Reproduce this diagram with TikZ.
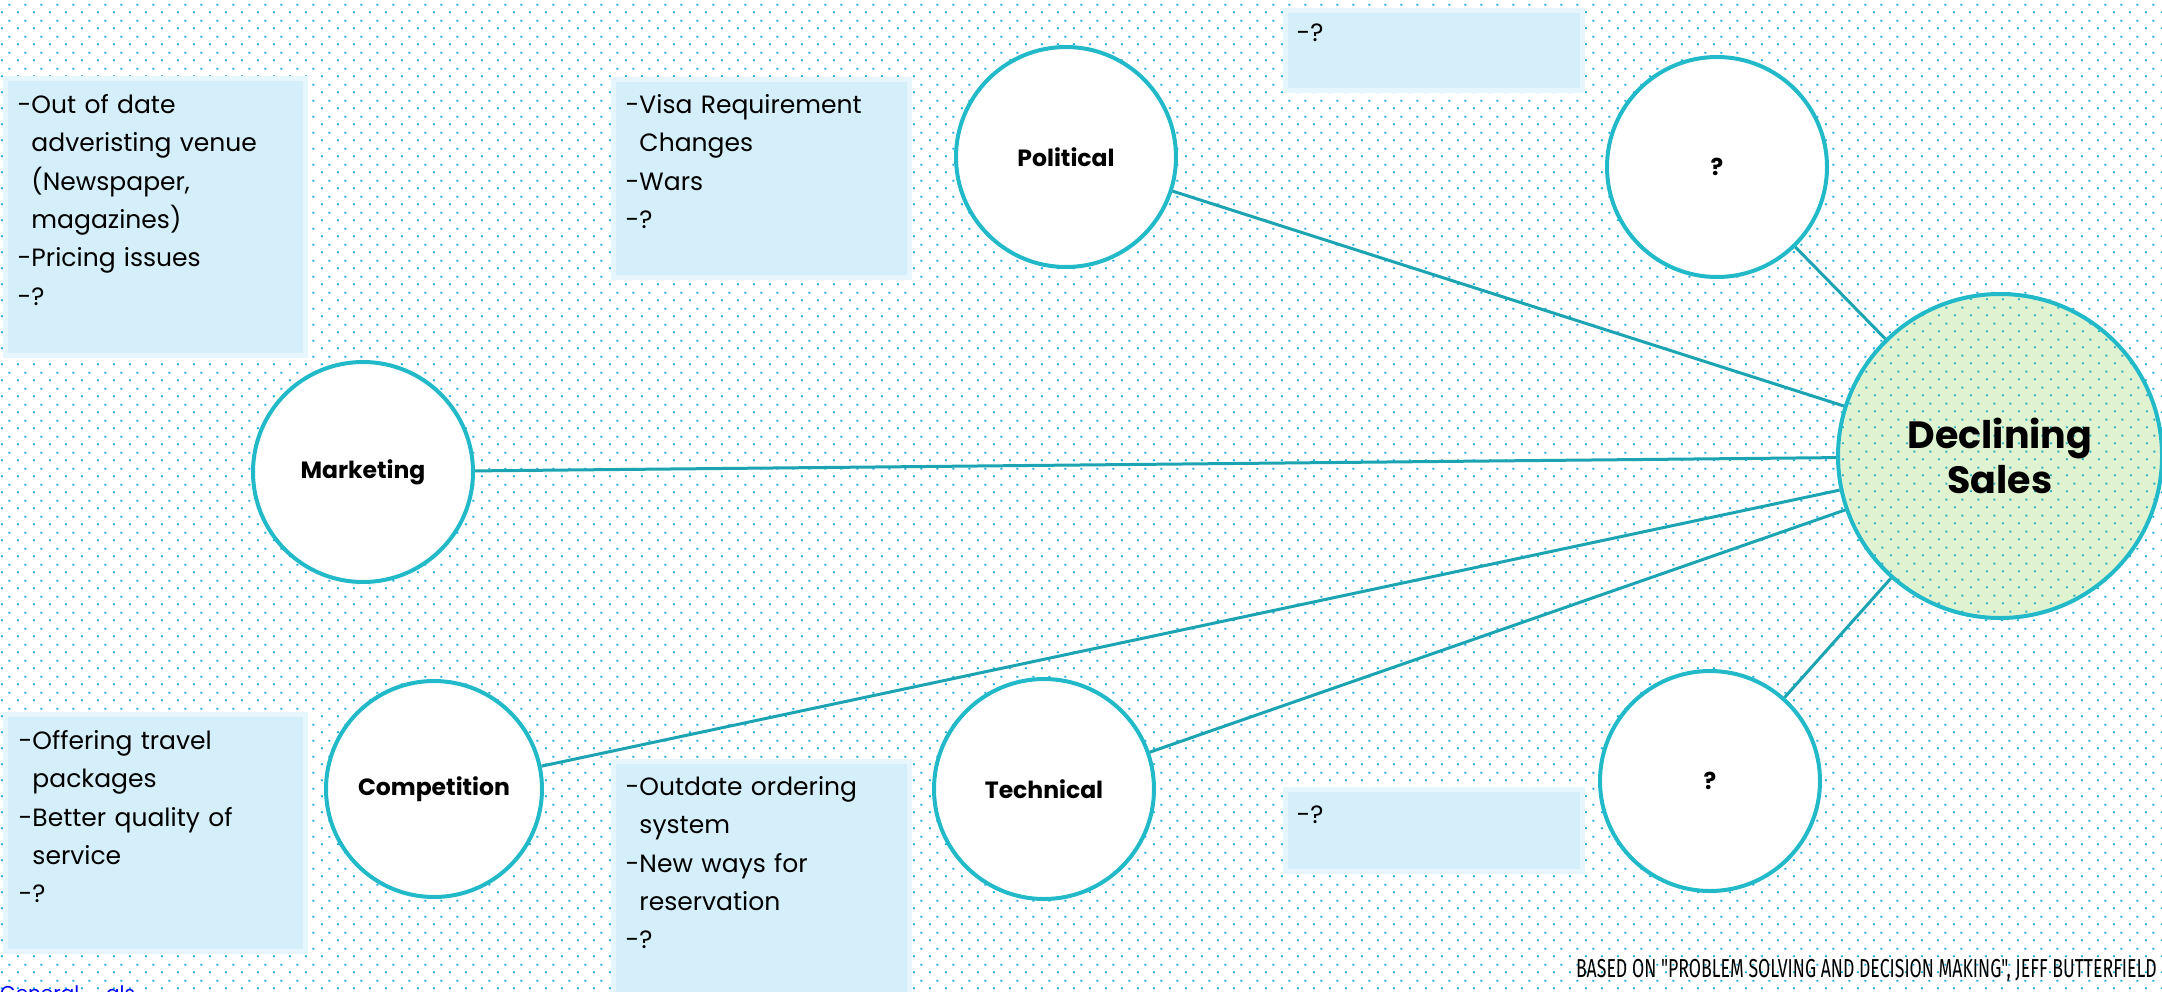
\documentclass[tikz,border=0pt]{standalone}
\usepackage{fontspec}
\setmainfont{Poppins}
\newfontfamily\credfont[FakeStretch=0.68]{Fira Sans}
\usetikzlibrary{patterns.meta}

\definecolor{dotblue}{HTML}{1BA9DC}
\definecolor{dotteal}{HTML}{2EAFBE}
\definecolor{ringcyan}{HTML}{22B9C9}
\definecolor{spoketeal}{HTML}{1CA4B2}
\definecolor{notefill}{HTML}{D4EFF9}
\definecolor{salesgreen}{HTML}{E0F3D1}
\definecolor{linkblue}{HTML}{0000FF}

%dotted paper
\tikzdeclarepattern{name=dotgrid, type=colored,
  bottom left={(0pt,0pt)}, top right={(16pt,16pt)}, tile size={(16pt,16pt)},
  code={\fill[dotblue] (2pt,3pt) rectangle (4pt,5pt);
        \fill[dotblue] (10pt,11pt) rectangle (12pt,13pt);}}
\tikzdeclarepattern{name=dotgridteal, type=colored,
  bottom left={(0pt,0pt)}, top right={(16pt,16pt)}, tile size={(16pt,16pt)},
  code={\fill[dotteal] (2pt,3pt) rectangle (4pt,5pt);
        \fill[dotteal] (10pt,11pt) rectangle (12pt,13pt);}}

\newcommand{\notepad}{\hphantom{-}}

\begin{document}
\begin{tikzpicture}[x=1pt,y=-1pt,
  cause/.style={circle,draw=ringcyan,line width=4pt,fill=white,minimum size=220pt,inner sep=0pt,font=\bfseries\fontsize{23.5}{27}\selectfont},
  effect/.style={circle,draw=ringcyan,line width=4pt,preaction={fill=salesgreen},pattern=dotgridteal,minimum size=324pt,inner sep=0pt,align=center,font=\bfseries\fontsize{38}{45}\selectfont},
  spoke/.style={draw=spoketeal,line width=3pt},
  note/.style={fill=notefill,draw=notefill!55,line width=5pt,inner sep=0pt},
  notetext/.style={anchor=base west,inner sep=0pt,text width=285pt,align=left,font=\fontsize{25}{38.3}\selectfont}]
	\def \W {2162}
	\def \H {991}
	
	%background
	\fill[white] (0,0) rectangle (\W,\H);
	\fill[pattern=dotgrid] (0,0) rectangle (\W,\H);
	\useasboundingbox (0,0) rectangle (\W,\H);
	
	%note boxes
	\node[note,minimum width=300pt,minimum height=277pt] (mktnote) at (155,216.5) {};
	\node[note,minimum width=296pt,minimum height=198pt] (polnote) at (761,178) {};
	\node[note,minimum width=297pt,minimum height=80pt] (qtopnote) at (1433.5,50) {};
	\node[note,minimum width=300pt,minimum height=237pt] (compnote) at (155,832.5) {};
	\node[note,minimum width=296pt,minimum height=239pt] (technote) at (761,880.5) {};
	\node[note,minimum width=297pt,minimum height=82pt] (qbotnote) at (1433.5,830) {};
	
	%note texts
	\node[notetext] (mkttext) at ([shift={(15,38)}]mktnote.north west)
		{-Out of date\\ \notepad adveristing venue\\ \notepad(Newspaper,\\ \notepad magazines)\\ -Pricing issues\\ -?};
	\node[notetext] (poltext) at ([shift={(15,37)}]polnote.north west)
		{-Visa Requirement\\ \notepad Changes\\ -Wars\\ -?};
	\node[notetext] (qtoptext) at ([shift={(14,34)}]qtopnote.north west) {-?};
	\node[notetext] (comptext) at ([shift={(16,38)}]compnote.north west)
		{-Offering travel\\ \notepad packages\\ -Better quality of\\ \notepad service\\ -?};
	\node[notetext] (techtext) at ([shift={(15,37)}]technote.north west)
		{-Outdate ordering\\ \notepad system\\ -New ways for\\ \notepad reservation\\ -?};
	\node[notetext] (qbottext) at ([shift={(14,37)}]qbotnote.north west) {-?};
	
	%causes and effect
	\node[cause] (mkt) at (363,472) {Marketing};
	\node[cause] (pol) at (1066,157) {Political};
	\node[cause] (qtop) at (1717,167) {?};
	\node[cause,minimum size=216pt] (comp) at (434,789) {Competition};
	\node[cause] (tech) at (1044,789) {Technical};
	\node[cause] (qbot) at (1710,781) {?};
	\node[effect] (sales) at (2000,456) {Declining\\Sales};
	
	%spokes
	\foreach \src in {mkt,pol,qtop,comp,tech,qbot}
		\draw[spoke] (\src) -- (sales);
	
	%footer
	\node[anchor=base east,inner sep=0pt,font=\credfont\fontsize{26}{26}\selectfont] (credit) at (2157,977)
		{BASED ON "PROBLEM SOLVING AND DECISION MAKING", JEFF BUTTERFIELD};
	\node[anchor=base west,inner sep=0pt,text=linkblue,font=\fontsize{20}{20}\selectfont] (linkA) at (0,1000) {General};
	\node[anchor=base west,inner sep=0pt,text=linkblue,font=\fontsize{20}{20}\selectfont] (linkB) at (106,1000) {als};
\end{tikzpicture}
\end{document}
